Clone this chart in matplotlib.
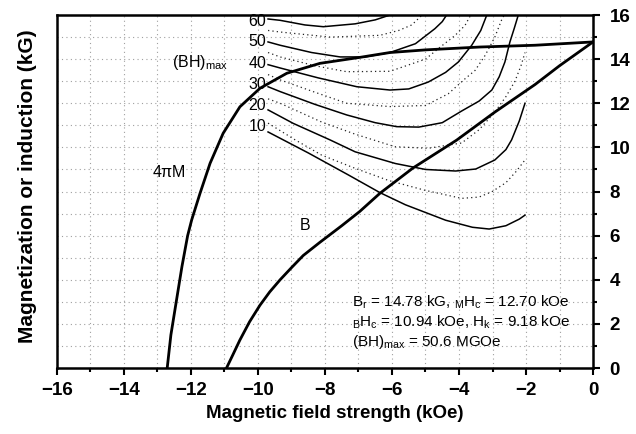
import matplotlib
matplotlib.use("Agg")
import matplotlib.pyplot as plt
from matplotlib.ticker import MultipleLocator

plt.rcParams["font.family"] = ["Liberation Sans", "DejaVu Sans"]
plt.rcParams["mathtext.default"] = "regular"

# demagnetization curves (H in kOe, values in kG)
h_4pim = [-12.71, -12.6, -12.43, -12.27, -12.1, -11.98, -11.73, -11.43, -11.04, -10.54,
          -9.94, -9.14, -8.15, -6.96, -6.06, -5.0, -3.37, -1.73, 0.0]
m_4pim = [0.0, 1.5, 3.1, 4.6, 6.0, 6.71, 7.92, 9.28, 10.64, 11.84,
          12.68, 13.36, 13.81, 14.08, 14.3, 14.42, 14.55, 14.63, 14.78]

h_b = [-10.94, -10.75, -10.54, -10.25, -9.94, -9.65, -9.34, -9.0, -8.65, -8.15, -7.5,
       -6.96, -6.36, -5.37, -4.07, -2.93, -1.73, -1.0, 0.0]
b_b = [0.0, 0.6, 1.27, 2.1, 2.85, 3.45, 4.0, 4.55, 5.1, 5.7, 6.45,
       7.1, 7.92, 9.07, 10.33, 11.6, 12.85, 13.7, 14.78]

# solid curves labelled 10 ... 60
solid_labels = ["10", "20", "30", "40", "50", "60"]
solid_label_y = [10.94, 11.88, 12.83, 13.8, 14.8, 15.7]
solid_h = [
    [-9.7, -8.5, -7.3, -6.36, -5.6, -4.4, -3.6, -3.1, -2.6, -2.2, -2.03],
    [-9.7, -8.95, -7.85, -7.1, -5.9, -5.0, -4.1, -3.5, -2.93, -2.6, -2.43, -2.2, -2.03],
    [-9.7, -9.34, -8.3, -7.35, -6.5, -5.86, -5.2, -4.5, -3.92, -3.4, -3.02, -2.8, -2.63, -2.48, -2.35, -2.23],
    [-9.7, -9.34, -8.2, -7.05, -6.06, -5.5, -4.92, -4.4, -4.02, -3.62, -3.35, -3.17],
    [-9.7, -9.34, -8.4, -7.55, -6.8, -6.06, -5.3, -4.72, -4.5, -4.37],
    [-9.7, -9.34, -8.6, -8.05, -7.1, -6.5, -6.06],
]
solid_b = [
    [10.7, 9.75, 8.75, 7.95, 7.4, 6.7, 6.38, 6.3, 6.45, 6.75, 6.93],
    [11.7, 11.09, 10.34, 9.8, 9.27, 9.0, 8.93, 9.02, 9.43, 9.9, 10.34, 11.2, 12.0],
    [12.75, 12.53, 11.95, 11.47, 11.12, 10.94, 10.92, 11.12, 11.65, 12.1, 12.6, 13.2, 13.87, 14.78, 15.4, 16.0],
    [13.75, 13.6, 13.15, 12.75, 12.6, 12.65, 12.96, 13.4, 13.87, 14.63, 15.3, 16.0],
    [14.78, 14.63, 14.3, 14.1, 14.1, 14.3, 14.7, 15.38, 15.7, 16.0],
    [15.82, 15.76, 15.55, 15.47, 15.6, 15.78, 16.0],
]

# dotted curves in between (15, 25, 35, 45, 55)
dotted_h = [
    [-9.7, -8.9, -8.1, -7.1, -6.1, -5.0, -3.92, -3.4, -3.02, -2.6, -2.3, -2.03],
    [-9.7, -9.34, -8.1, -7.1, -5.91, -4.92, -3.92, -3.4, -2.93, -2.6, -2.33, -2.15, -2.03],
    [-9.7, -9.34, -8.3, -7.35, -6.06, -5.0, -4.32, -3.82, -3.52, -3.22, -2.93, -2.73, -2.65],
    [-9.7, -9.34, -8.3, -7.35, -6.06, -5.0, -4.6, -4.12, -3.82, -3.65],
    [-9.7, -9.34, -7.85, -6.36, -5.8, -5.41, -5.1],
]
dotted_b = [
    [11.1, 10.35, 9.65, 9.05, 8.5, 8.05, 7.69, 7.75, 7.99, 8.4, 8.9, 9.43],
    [12.2, 12.0, 11.15, 10.6, 10.03, 9.96, 10.2, 10.8, 11.6, 12.3, 13.0, 13.7, 14.3],
    [13.3, 13.06, 12.5, 12.0, 11.85, 11.9, 12.43, 13.11, 13.49, 14.17, 15.0, 15.77, 16.0],
    [14.3, 14.1, 13.7, 13.43, 13.45, 14.0, 14.5, 15.07, 15.53, 16.0],
    [15.3, 15.23, 15.0, 15.08, 15.3, 15.55, 16.0],
]

fig = plt.figure(figsize=(6.36, 4.34), dpi=100)
ax = fig.add_axes([0.0896, 0.152, 0.8428, 0.8134])

ax.set_xlim(-16, 0)
ax.set_ylim(0, 16)

for hs, bs in zip(solid_h, solid_b):
    ax.plot(hs, bs, color="black", lw=1.1)
for hs, bs in zip(dotted_h, dotted_b):
    ax.plot(hs, bs, color="#222222", lw=0.9, ls=(0, (1, 2.5)))

ax.plot(h_4pim, m_4pim, color="black", lw=2.0)
ax.plot(h_b, b_b, color="black", lw=2.0)

for lab, ly in zip(solid_labels, solid_label_y):
    ax.text(-9.75, ly, lab, ha="right", va="center", fontsize=11.5)

ax.text(-12.57, 13.85, "(BH)$_{max}$", ha="left", va="center", fontsize=11.5)
ax.text(-13.16, 8.9, "4$\\pi$M", ha="left", va="center", fontsize=11.5)
ax.text(-8.6, 6.45, "B", ha="center", va="center", fontsize=11.5)

ax.text(-7.2, 3.0, "B$_r$ = 14.78 kG, $_M$H$_c$ = 12.70 kOe", ha="left", va="center", fontsize=11)
ax.text(-7.2, 2.09, "$_B$H$_c$ = 10.94 kOe, H$_k$ = 9.18 kOe", ha="left", va="center", fontsize=11)
ax.text(-7.2, 1.18, "(BH)$_{max}$ = 50.6 MGOe", ha="left", va="center", fontsize=11)

# axes and ticks
ax.xaxis.set_major_locator(MultipleLocator(2))
ax.xaxis.set_minor_locator(MultipleLocator(1))
ax.yaxis.set_major_locator(MultipleLocator(2))
ax.yaxis.set_minor_locator(MultipleLocator(1))
ax.yaxis.tick_right()
ax.tick_params(which="both", direction="out", width=1.5)
ax.tick_params(which="major", length=5, labelsize=13.5, pad=5)
ax.tick_params(axis="y", which="major", pad=7)
ax.tick_params(which="minor", length=3)
for lab in ax.get_xticklabels() + ax.get_yticklabels():
    lab.set_fontweight("bold")
for s in ax.spines.values():
    s.set_linewidth(1.8)

ax.grid(which="both", color="#a0a0a0", lw=0.8, ls=(0, (1, 3)))
ax.set_axisbelow(True)

fig.text(0.527, 0.048, "Magnetic field strength (kOe)", ha="center", va="center",
         fontsize=13.5, fontweight="bold")
fig.text(0.044, 0.571, "Magnetization or induction (kG)", rotation=90, ha="center", va="center",
         fontsize=15, fontweight="bold")

fig.savefig("out.png", dpi=100)
